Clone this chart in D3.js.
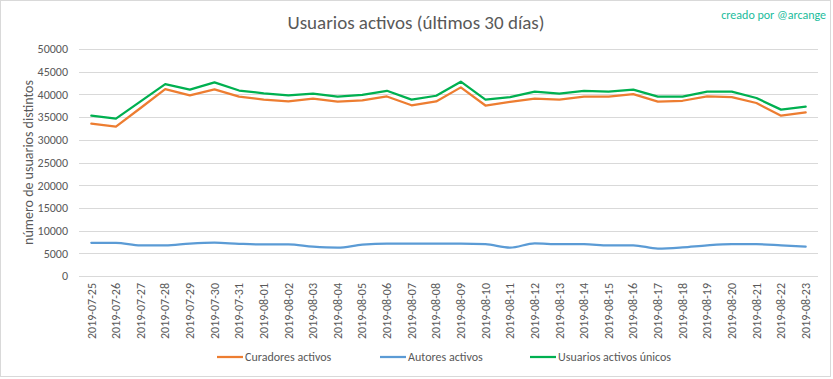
<!DOCTYPE html>
<html><head><meta charset="utf-8">
<script src="https://cdn.jsdelivr.net/npm/d3@7"></script>
<style>
html,body{margin:0;padding:0;background:#fff;}
svg{display:block;}
text{font-family:"Carlito","Calibri","Lato","Open Sans",sans-serif;}
</style></head>
<body>
<svg id="chart" width="833" height="379"></svg>
<script>
const dates = ["2019-07-25","2019-07-26","2019-07-27","2019-07-28","2019-07-29","2019-07-30","2019-07-31","2019-08-01","2019-08-02","2019-08-03","2019-08-04","2019-08-05","2019-08-06","2019-08-07","2019-08-08","2019-08-09","2019-08-10","2019-08-11","2019-08-12","2019-08-13","2019-08-14","2019-08-15","2019-08-16","2019-08-17","2019-08-18","2019-08-19","2019-08-20","2019-08-21","2019-08-22","2019-08-23"];
const curadores = [33550,32900,37000,41150,39800,41100,39500,38850,38450,39050,38400,38700,39550,37600,38450,41550,37550,38350,39050,38850,39500,39500,40050,38400,38600,39550,39400,38100,35300,36050];
const autores = [7300,7300,6750,6750,7150,7350,7100,6950,6950,6450,6250,6900,7150,7150,7150,7150,7000,6250,7200,7000,7000,6750,6750,6050,6300,6750,7000,7000,6750,6450];
const unicos = [35300,34650,38450,42250,41050,42650,40850,40250,39800,40150,39500,39900,40800,38850,39700,42800,38850,39400,40600,40150,40800,40600,41050,39500,39500,40600,40600,39200,36650,37300];
const yTicks = [0,5000,10000,15000,20000,25000,30000,35000,40000,45000,50000];
const seriesNames = ["Curadores activos","Autores activos","Usuarios activos únicos"];
const seriesColors = ["#ED7D31","#5B9BD5","#00B050"];

const svg = d3.select("#chart");
const W = 833, H = 379;
const m = {left:79, right:15, top:49, bottom:103};

svg.append("rect").attr("x",0.5).attr("y",0.5).attr("width",W-3).attr("height",H-3)
  .attr("fill","#fff").attr("stroke","#D9D9D9");

const x = d3.scaleBand().domain(dates).range([m.left, W-m.right]);
const y = d3.scaleLinear().domain([0,50000]).range([H-m.bottom, m.top]);

// gridlines
svg.append("g").selectAll("line").data(yTicks).join("line")
  .attr("x1",m.left).attr("x2",W-m.right)
  .attr("y1",d=>Math.round(y(d))+0.5).attr("y2",d=>Math.round(y(d))+0.5)
  .attr("stroke","#D9D9D9").attr("stroke-width",1);

// y axis labels
const yAxis = d3.axisLeft(y).tickValues(yTicks).tickSize(0).tickPadding(11).tickFormat(d3.format("d"));
const gy = svg.append("g").attr("transform",`translate(${m.left},0)`).call(yAxis);
gy.select(".domain").remove();
gy.selectAll("text").attr("fill","#595959").style("font-size","12px").style("font-family",'"Carlito","Calibri","Lato",sans-serif');

// x axis labels
const xAxis = d3.axisBottom(x).tickSize(0).tickPadding(0);
const gx = svg.append("g").attr("transform",`translate(0,${H-m.bottom})`).call(xAxis);
gx.select(".domain").remove();
gx.selectAll("text")
  .attr("transform","rotate(-90)")
  .attr("text-anchor","end")
  .attr("x",-7).attr("y",0).attr("dy","0.35em")
  .attr("fill","#595959").style("font-size","12px").style("font-family",'"Carlito","Calibri","Lato",sans-serif');

// lines
const data = [curadores, autores, unicos];
const line = d3.line().x((d,i)=>x(dates[i])+x.bandwidth()/2).y(d=>y(d));
data.forEach((s,k)=>{
  svg.append("path").datum(s)
    .attr("fill","none").attr("stroke",seriesColors[k]).attr("stroke-width",2.25)
    .attr("stroke-linejoin","round").attr("stroke-linecap","round")
    .attr("d", k===1 ? line.curve(d3.curveMonotoneX)(s) : line.curve(d3.curveLinear)(s));
});

// title
svg.append("text").attr("x",416).attr("y",29).attr("text-anchor","middle")
  .attr("fill","#595959").style("font-size","19px").style("font-weight","300")
  .text("Usuarios activos (últimos 30 días)");

svg.append("text").attr("x",826).attr("y",19).attr("text-anchor","end")
  .attr("fill","#1ABC9C").style("font-size","12px")
  .text("creado por @arcange");

// y title
svg.append("text").attr("transform",`translate(33,${(m.top+H-m.bottom)/2}) rotate(-90)`)
  .attr("text-anchor","middle").attr("fill","#595959").style("font-size","14px")
  .text("número de usuarios distintos");

// legend
const legX = [217,380,530];
const leg = svg.append("g");
seriesNames.forEach((n,k)=>{
  leg.append("line").attr("x1",legX[k]).attr("x2",legX[k]+26).attr("y1",357).attr("y2",357)
    .attr("stroke",seriesColors[k]).attr("stroke-width",2.25);
  leg.append("text").attr("x",legX[k]+28).attr("y",357).attr("dy","0.35em")
    .attr("fill","#595959").style("font-size","12px").text(n);
});
</script>
</body></html>
